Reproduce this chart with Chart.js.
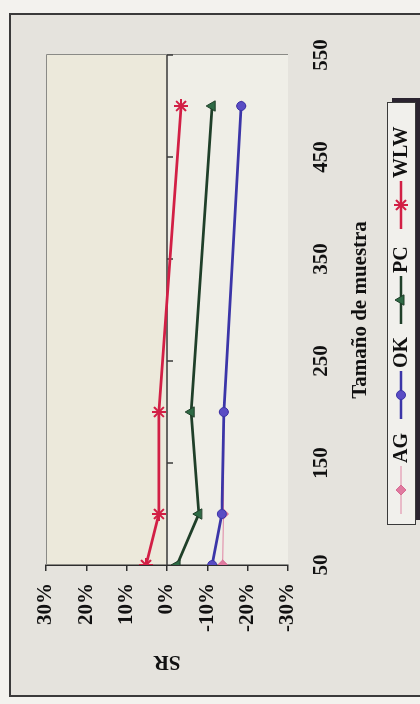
<!DOCTYPE html>
<html>
<head>
<meta charset="utf-8">
<script src="https://cdn.jsdelivr.net/npm/chart.js@4.4.1/dist/chart.umd.min.js"></script>
<style>
  html, body { margin: 0; padding: 0; width: 420px; height: 704px; overflow: hidden; background: #f3f2ee; }
  /* the chart is laid out landscape and turned a quarter turn counter-clockwise */
  #wrap { position: absolute; left: 0; top: 0; width: 704px; height: 420px;
          transform-origin: 0 0; transform: translate(0px, 704px) rotate(-90deg); }
  canvas { display: block; }
</style>
</head>
<body>
<div id="wrap"><canvas id="c" width="704" height="420"></canvas></div>
<script>
// sample sizes (x) and SR in percent for each method
const sampleSizes = [50, 100, 200, 500];
const seriesNames = ['AG', 'OK', 'PC', 'WLW'];
const agValues  = [-13.8, -14.0, -14.1, -18.4];
const okValues  = [-11.2, -13.6, -14.1, -18.4];
const pcValues  = [-2.5, -7.9, -6.0, -11.2];
const wlwValues = [5.2, 2.0, 2.0, -3.5];
const xTickValues = [50, 150, 250, 350, 450, 550];
const yTickValues = [-30, -20, -10, 0, 10, 20, 30];
const xTitle = 'Tamaño de muestra';
const yTitle = 'SR';

const FONT = "'Liberation Serif', 'Times New Roman', serif";

function pts(vals) { return sampleSizes.map((s, i) => ({ x: s, y: vals[i] })); }

const styles = {
  AG:  { line: '#e084a4', width: 1,   point: 'rectRot',  fill: '#e07aa0', border: '#d86a92', radius: 5 },
  OK:  { line: '#3b35a8', width: 2.7, point: 'circle',   fill: '#5a4cc4', border: '#3b35a8', radius: 4.5 },
  PC:  { line: '#1f3f29', width: 2.7, point: 'triangle', fill: '#2e6a45', border: '#1f3f29', radius: 6 },
  WLW: { line: '#d21f45', width: 2.7, point: 'star',     fill: '#d21f45', border: '#d21f45', radius: 7 }
};
const valueSets = { AG: agValues, OK: okValues, PC: pcValues, WLW: wlwValues };

const datasets = seriesNames.map(name => {
  const s = styles[name];
  return {
    label: name,
    data: pts(valueSets[name]),
    borderColor: s.line,
    borderWidth: s.width,
    pointStyle: s.point,
    pointRadius: s.radius,
    pointBackgroundColor: s.fill,
    pointBorderColor: s.border,
    pointBorderWidth: name === 'WLW' ? 2 : 1,
    tension: 0,
    order: name === 'AG' ? 1 : 0
  };
});

// frame, plot fill, zero line with its ticks, plot border
const backdrop = {
  id: 'backdrop',
  beforeDraw(chart) {
    const { ctx, chartArea: a, scales: { y } } = chart;
    ctx.save();
    ctx.fillStyle = '#f3f2ee';
    ctx.fillRect(0, 0, chart.width, chart.height);
    ctx.fillStyle = '#e5e3dd';
    ctx.fillRect(8, 10, 682, 420);
    ctx.strokeStyle = '#3a3a3a';
    ctx.lineWidth = 2;
    ctx.strokeRect(8, 10, 682, 420);
    const y0 = y.getPixelForValue(0);
    ctx.fillStyle = '#ece9db';
    ctx.fillRect(a.left, a.top, a.right - a.left, y0 - a.top);
    ctx.fillStyle = '#efeee7';
    ctx.fillRect(a.left, y0, a.right - a.left, a.bottom - y0);
    ctx.restore();
  },
  beforeDatasetsDraw(chart) {
    const { ctx, chartArea: a, scales: { x, y } } = chart;
    ctx.save();
    ctx.strokeStyle = '#8a8a86';
    ctx.lineWidth = 1;
    ctx.beginPath();
    ctx.moveTo(a.left, a.top + 0.5);
    ctx.lineTo(a.right + 0.5, a.top + 0.5);
    ctx.lineTo(a.right + 0.5, a.bottom);
    ctx.stroke();
    const y0 = y.getPixelForValue(0);
    ctx.strokeStyle = '#3a3a3a';
    ctx.lineWidth = 1.5;
    ctx.beginPath();
    ctx.moveTo(a.left, y0);
    ctx.lineTo(a.right, y0);
    x.ticks.forEach(t => {
      if (t.value === x.min) return;
      const px = x.getPixelForValue(t.value);
      ctx.moveTo(px, y0);
      ctx.lineTo(px, y0 + 6);
    });
    ctx.stroke();
    ctx.restore();
  }
};

// legend box with drop shadow, one entry per series
const legendBox = {
  id: 'legendBox',
  afterDraw(chart) {
    const { ctx } = chart;
    const bx = 179, by = 387, bw = 422, bh = 28, step = 95, start = 190;
    ctx.save();
    ctx.fillStyle = '#2b2430';
    ctx.fillRect(bx + 5, by + 5, bw, bh);
    ctx.fillStyle = '#f1f0ec';
    ctx.fillRect(bx, by, bw, bh);
    ctx.strokeStyle = '#3a3a3a';
    ctx.lineWidth = 1;
    ctx.strokeRect(bx + 0.5, by + 0.5, bw, bh);
    const cy = by + bh / 2;
    ctx.font = 'bold 20px ' + FONT;
    ctx.textBaseline = 'middle';
    chart.data.datasets.forEach((ds, i) => {
      const ex = start + i * step;
      ctx.strokeStyle = ds.borderColor;
      ctx.lineWidth = ds.borderWidth;
      ctx.beginPath();
      ctx.moveTo(ex, cy);
      ctx.lineTo(ex + 48, cy);
      ctx.stroke();
      ctx.fillStyle = ds.pointBackgroundColor;
      ctx.strokeStyle = ds.pointBorderColor;
      ctx.lineWidth = ds.pointBorderWidth;
      Chart.helpers.drawPoint(ctx, {
        pointStyle: ds.pointStyle, radius: ds.pointRadius, rotation: 0,
        borderWidth: ds.pointBorderWidth
      }, ex + 24, cy);
      ctx.fillStyle = '#111';
      ctx.fillText(ds.label, ex + 51, cy + 1);
    });
    ctx.restore();
  }
};

new Chart(document.getElementById('c'), {
  type: 'line',
  data: { datasets },
  plugins: [backdrop, legendBox],
  options: {
    responsive: false,
    animation: false,
    events: [],
    layout: { padding: { top: 46, right: 55, left: 0, bottom: 0 } },
    plugins: { legend: { display: false }, tooltip: { enabled: false } },
    scales: {
      x: {
        type: 'linear',
        min: xTickValues[0],
        max: xTickValues[xTickValues.length - 1],
        afterFit(s) { s.height = 132; },
        afterBuildTicks(s) { s.ticks = xTickValues.map(v => ({ value: v })); },
        grid: { display: false },
        border: { display: false },
        ticks: { color: '#111', padding: 13, maxRotation: 0,
                 font: { family: FONT, size: 21, weight: 'bold' } },
        title: { display: true, text: xTitle, color: '#111',
                 padding: { top: 0, bottom: 47 },
                 font: { family: FONT, size: 21, weight: 'bold' } }
      },
      y: {
        min: yTickValues[0],
        max: yTickValues[yTickValues.length - 1],
        afterFit(s) { s.width = 139; },
        afterBuildTicks(s) { s.ticks = yTickValues.map(v => ({ value: v })); },
        grid: { drawOnChartArea: false, tickLength: 6, color: '#2e2e2e', lineWidth: 1.5 },
        border: { color: '#2e2e2e', width: 1.5 },
        ticks: { color: '#111', padding: 12, callback: v => v + '%',
                 font: { family: FONT, size: 21, weight: 'bold' } },
        title: { display: true, text: yTitle, color: '#111',
                 padding: { top: 30, bottom: 0 },
                 font: { family: FONT, size: 21, weight: 'bold' } }
      }
    }
  }
});
</script>
</body>
</html>
